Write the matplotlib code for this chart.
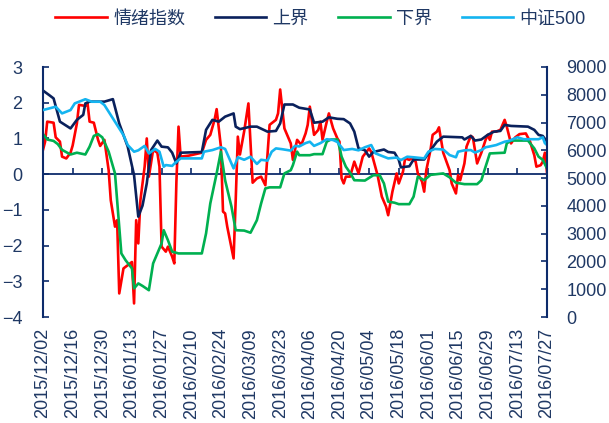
import pandas as pd
import matplotlib.pyplot as plt
import matplotlib.dates as mdates
import matplotlib.ticker as mticker

plt.rcParams['font.family'] = ['Liberation Sans', 'Noto Sans CJK SC']

# 情绪指数 (left axis)
mood_dates = [
    '2015-12-02', '2015-12-03', '2015-12-04', '2015-12-07', '2015-12-08', '2015-12-10',
    '2015-12-11', '2015-12-13', '2015-12-15', '2015-12-16', '2015-12-18', '2015-12-19',
    '2015-12-22', '2015-12-23', '2015-12-24', '2015-12-26', '2015-12-28', '2015-12-29',
    '2015-12-31', '2016-01-02', '2016-01-03', '2016-01-05', '2016-01-06', '2016-01-07',
    '2016-01-09', '2016-01-11', '2016-01-13', '2016-01-14', '2016-01-15', '2016-01-16',
    '2016-01-17', '2016-01-19', '2016-01-20', '2016-01-21', '2016-01-23', '2016-01-25',
    '2016-01-26', '2016-01-27', '2016-01-29', '2016-01-30', '2016-02-01', '2016-02-02',
    '2016-02-03', '2016-02-04', '2016-02-05', '2016-02-09', '2016-02-15', '2016-02-17',
    '2016-02-19', '2016-02-21', '2016-02-22', '2016-02-24', '2016-02-25', '2016-02-26',
    '2016-02-27', '2016-03-01', '2016-03-02', '2016-03-03', '2016-03-04', '2016-03-06',
    '2016-03-08', '2016-03-10', '2016-03-12', '2016-03-14', '2016-03-16', '2016-03-18',
    '2016-03-21', '2016-03-22', '2016-03-23', '2016-03-25', '2016-03-28', '2016-03-29',
    '2016-03-31', '2016-04-02', '2016-04-04', '2016-04-05', '2016-04-06', '2016-04-08',
    '2016-04-10', '2016-04-11', '2016-04-12', '2016-04-14', '2016-04-15', '2016-04-17',
    '2016-04-19', '2016-04-20', '2016-04-21', '2016-04-22', '2016-04-23', '2016-04-25',
    '2016-04-27', '2016-04-29', '2016-05-01', '2016-05-04', '2016-05-05', '2016-05-06',
    '2016-05-08', '2016-05-10', '2016-05-12', '2016-05-13', '2016-05-15', '2016-05-17',
    '2016-05-18', '2016-05-20', '2016-05-21', '2016-05-23', '2016-05-24', '2016-05-26',
    '2016-05-27', '2016-05-29', '2016-05-30', '2016-05-31', '2016-06-02', '2016-06-03',
    '2016-06-05', '2016-06-06', '2016-06-07', '2016-06-08', '2016-06-11', '2016-06-12',
    '2016-06-14', '2016-06-15', '2016-06-16', '2016-06-18', '2016-06-19', '2016-06-21',
    '2016-06-22', '2016-06-24', '2016-06-26', '2016-06-28', '2016-06-29', '2016-06-30',
    '2016-07-01', '2016-07-03', '2016-07-05', '2016-07-07', '2016-07-08', '2016-07-10',
    '2016-07-12', '2016-07-14', '2016-07-17', '2016-07-19', '2016-07-21', '2016-07-22',
    '2016-07-24', '2016-07-25', '2016-07-26', '2016-07-27',
]
mood = [
    0.68, 0.91, 1.47, 1.44, 1.03, 0.91,
    0.49, 0.44, 0.60, 0.80, 1.42, 1.94,
    1.91, 2.00, 1.47, 1.44, 0.96, 0.79,
    0.96, 0.11, -0.73, -1.47, -1.29, -3.34,
    -2.64, -2.55, -2.46, -3.62, -1.29, -1.94,
    -0.73, 0.21, 1.00, -0.07, 0.68, 0.60,
    0.21, -2.03, -2.17, -2.03, -2.31, -2.50,
    -0.20, 1.33, 0.49, 0.52, 0.60, 0.96,
    1.10, 1.52, 1.82, 0.77, -1.05, -1.10,
    -1.47, -2.36, -0.73, 1.05, 0.55, 1.20,
    1.98, -0.24, -0.12, -0.07, -0.31, 1.38,
    1.52, 1.70, 2.37, 1.28, 0.86, 0.40,
    0.96, 0.82, 1.14, 1.38, 1.89, 1.10,
    1.24, 1.47, 0.96, 1.47, 1.70, 1.28,
    1.00, 0.91, -0.12, -0.26, -0.07, -0.07,
    0.35, 0.02, 0.49, 0.72, 0.62, 0.40,
    -0.03, -0.63, -0.91, -1.15, -0.49, 0.02,
    -0.26, 0.07, 0.44, 0.40, 0.44, 0.35,
    0.02, -0.21, -0.49, 0.11, 0.68, 1.10,
    1.19, 1.31, 0.96, 0.60, 0.11, -0.26,
    -0.54, -0.03, -0.17, 0.30, 0.77, 1.07,
    1.03, 0.30, 0.60, 0.96, 1.10, 0.96,
    1.19, 1.19, 1.24, 1.52, 1.33, 0.86,
    1.03, 1.12, 1.14, 0.91, 0.53, 0.21,
    0.25, 0.35, 0.60, 0.05,
]

# 上界 (left axis)
upper_dates = [
    '2015-12-02', '2015-12-05', '2015-12-07', '2015-12-10', '2015-12-15', '2015-12-18',
    '2015-12-21', '2015-12-22', '2015-12-24', '2015-12-31', '2016-01-04', '2016-01-07',
    '2016-01-11', '2016-01-14', '2016-01-16', '2016-01-18', '2016-01-20', '2016-01-22',
    '2016-01-25', '2016-01-27', '2016-01-30', '2016-02-01', '2016-02-03', '2016-02-05',
    '2016-02-15', '2016-02-17', '2016-02-20', '2016-02-23', '2016-02-26', '2016-03-01',
    '2016-03-02', '2016-03-04', '2016-03-09', '2016-03-12', '2016-03-17', '2016-03-21',
    '2016-03-23', '2016-03-25', '2016-03-29', '2016-04-01', '2016-04-06', '2016-04-08',
    '2016-04-12', '2016-04-15', '2016-04-19', '2016-04-22', '2016-04-25', '2016-04-27',
    '2016-04-29', '2016-05-02', '2016-05-04', '2016-05-06', '2016-05-11', '2016-05-13',
    '2016-05-16', '2016-05-18', '2016-05-19', '2016-05-23', '2016-05-25', '2016-05-30',
    '2016-06-02', '2016-06-05', '2016-06-08', '2016-06-17', '2016-06-18', '2016-06-21',
    '2016-06-23', '2016-06-26', '2016-06-29', '2016-07-02', '2016-07-05', '2016-07-07',
    '2016-07-10', '2016-07-18', '2016-07-21', '2016-07-23', '2016-07-25', '2016-07-27',
]
upper = [
    2.34, 2.21, 2.12, 1.47, 1.28, 1.52,
    1.66, 1.98, 2.03, 2.03, 2.10, 1.42,
    0.77, -0.03, -1.19, -0.88, -0.26, 0.67,
    0.94, 0.77, 0.75, 0.60, 0.30, 0.60,
    0.62, 1.24, 1.52, 1.47, 1.61, 1.70,
    1.33, 1.26, 1.33, 1.33, 1.19, 1.21,
    1.42, 1.95, 1.95, 1.86, 1.81, 1.44,
    1.47, 1.59, 1.55, 1.54, 1.42, 1.19,
    0.72, 0.67, 0.49, 0.62, 0.69, 0.62,
    0.60, 0.40, 0.19, 0.22, 0.41, 0.41,
    0.67, 0.91, 1.05, 1.03, 0.97, 1.07,
    0.94, 0.97, 1.10, 1.19, 1.21, 1.38,
    1.35, 1.33, 1.24, 1.10, 1.07, 0.91,
]

# 下界 (left axis)
lower_dates = [
    '2015-12-02', '2015-12-04', '2015-12-07', '2015-12-09', '2015-12-11', '2015-12-15',
    '2015-12-18', '2015-12-22', '2015-12-24', '2015-12-26', '2015-12-28', '2015-12-30',
    '2016-01-02', '2016-01-05', '2016-01-06', '2016-01-08', '2016-01-10', '2016-01-13',
    '2016-01-14', '2016-01-16', '2016-01-18', '2016-01-21', '2016-01-23', '2016-01-25',
    '2016-01-27', '2016-01-28', '2016-01-30', '2016-02-01', '2016-02-04', '2016-02-15',
    '2016-02-17', '2016-02-19', '2016-02-22', '2016-02-24', '2016-02-26', '2016-02-29',
    '2016-03-02', '2016-03-06', '2016-03-09', '2016-03-12', '2016-03-14', '2016-03-16',
    '2016-03-18', '2016-03-23', '2016-03-25', '2016-03-28', '2016-03-29', '2016-03-31',
    '2016-04-01', '2016-04-06', '2016-04-08', '2016-04-12', '2016-04-14', '2016-04-16',
    '2016-04-19', '2016-04-20', '2016-04-21', '2016-04-23', '2016-04-25', '2016-04-27',
    '2016-05-02', '2016-05-06', '2016-05-09', '2016-05-11', '2016-05-13', '2016-05-16',
    '2016-05-18', '2016-05-23', '2016-05-25', '2016-05-27', '2016-05-30', '2016-06-02',
    '2016-06-08', '2016-06-11', '2016-06-14', '2016-06-18', '2016-06-24', '2016-06-26',
    '2016-06-28', '2016-06-30', '2016-07-07', '2016-07-08', '2016-07-10', '2016-07-18',
    '2016-07-21', '2016-07-23', '2016-07-25', '2016-07-27',
]
lower = [
    1.12, 0.97, 0.93, 0.84, 0.68, 0.55,
    0.60, 0.55, 0.77, 1.07, 1.12, 1.03,
    0.63, 0.02, -0.73, -2.22, -2.41, -2.64,
    -3.20, -3.06, -3.13, -3.25, -2.50, -2.22,
    -1.94, -1.57, -1.85, -2.17, -2.22, -2.22,
    -1.66, -0.82, 0.02, 0.63, -0.17, -0.91,
    -1.57, -1.58, -1.64, -1.29, -0.82, -0.40,
    -0.37, -0.37, 0.02, 0.11, 0.25, 0.63,
    0.53, 0.53, 0.56, 0.56, 0.91, 0.97,
    0.97, 0.75, 0.49, 0.21, 0.04, -0.17,
    -0.18, -0.03, -0.03, -0.26, -0.77, -0.80,
    -0.84, -0.84, -0.63, -0.07, -0.17, -0.02,
    0.02, -0.09, -0.24, -0.28, -0.28, -0.17,
    0.21, 0.58, 0.60, 0.86, 0.94, 0.94,
    0.72, 0.49, 0.40, 0.16,
]

# 中证500 (right axis)
csi_dates = [
    '2015-12-02', '2015-12-05', '2015-12-08', '2015-12-11', '2015-12-15', '2015-12-17',
    '2015-12-19', '2015-12-22', '2015-12-25', '2015-12-29', '2015-12-31', '2016-01-02',
    '2016-01-05', '2016-01-06', '2016-01-09', '2016-01-11', '2016-01-14', '2016-01-16',
    '2016-01-19', '2016-01-21', '2016-01-24', '2016-01-26', '2016-01-28', '2016-01-29',
    '2016-02-01', '2016-02-02', '2016-02-05', '2016-02-15', '2016-02-16', '2016-02-20',
    '2016-02-24', '2016-02-26', '2016-03-01', '2016-03-03', '2016-03-06', '2016-03-09',
    '2016-03-12', '2016-03-14', '2016-03-17', '2016-03-19', '2016-03-21', '2016-03-24',
    '2016-03-28', '2016-03-30', '2016-04-01', '2016-04-04', '2016-04-06', '2016-04-08',
    '2016-04-11', '2016-04-14', '2016-04-17', '2016-04-19', '2016-04-22', '2016-04-26',
    '2016-04-29', '2016-05-02', '2016-05-05', '2016-05-07', '2016-05-09', '2016-05-13',
    '2016-05-17', '2016-05-19', '2016-05-22', '2016-05-25', '2016-05-30', '2016-06-01',
    '2016-06-04', '2016-06-08', '2016-06-11', '2016-06-14', '2016-06-15', '2016-06-18',
    '2016-06-21', '2016-06-23', '2016-06-26', '2016-06-28', '2016-06-30', '2016-07-03',
    '2016-07-07', '2016-07-09', '2016-07-13', '2016-07-16', '2016-07-23', '2016-07-25',
    '2016-07-26', '2016-07-27',
]
csi500 = [
    7450, 7510, 7570, 7330, 7450, 7690,
    7750, 7840, 7750, 7750, 7630, 7390,
    7030, 6910, 6550, 6190, 5950, 6000,
    6160, 5890, 6050, 5950, 5410, 5470,
    5440, 5520, 5710, 5710, 5950, 6010,
    6110, 6050, 5350, 5750, 5660, 5770,
    5510, 5660, 5630, 5950, 6070, 6040,
    5990, 6160, 6140, 6260, 6310, 6160,
    6260, 6400, 6370, 6300, 6010, 6050,
    6000, 6110, 6190, 5890, 5830, 5710,
    5740, 5650, 5770, 5750, 5710, 5950,
    6050, 6030, 5830, 5750, 5950, 6000,
    6010, 5920, 6010, 6110, 6140, 6190,
    6310, 6340, 6470, 6400, 6400, 6470,
    6260, 6190,
]

navy = '#0D2B6B'
text_col = '#1F3864'

fig = plt.figure(figsize=(6.09, 4.23), dpi=100)
ax = fig.add_axes([43 / 609, 1 - 317 / 423, 504 / 609, 250 / 423])
ax2 = ax.twinx()

lw = 1.9
l1, = ax.plot(pd.to_datetime(mood_dates), mood, color='#FF0000', lw=lw, label='情绪指数')
l2, = ax.plot(pd.to_datetime(upper_dates), upper, color='#0A215C', lw=lw, label='上界')
l3, = ax.plot(pd.to_datetime(lower_dates), lower, color='#00B050', lw=lw, label='下界')
l4, = ax2.plot(pd.to_datetime(csi_dates), csi500, color='#14B4F0', lw=lw, label='中证500')

start, end = pd.Timestamp('2015-12-02'), pd.Timestamp('2016-07-27')
ticks = pd.date_range(start, end, freq='14D')
ax.set_xlim(start, end)
ax.set_xticks(ticks)
ax.xaxis.set_major_formatter(mdates.DateFormatter('%Y/%m/%d'))
ax.tick_params(axis='x', length=0, pad=8, labelrotation=90, labelsize=13, labelcolor=text_col)

ax.set_ylim(-4, 3)
ax.set_yticks(range(-4, 4))
ax.tick_params(axis='y', direction='in', length=4, width=1.2, color=navy, pad=15,
               labelsize=13, labelcolor=text_col)
ax2.set_ylim(0, 9000)
ax2.set_yticks(range(0, 9001, 1000))
ax2.tick_params(axis='y', direction='in', length=4, width=1.2, color=navy, pad=14,
                labelsize=13, labelcolor=text_col)

for a in (ax, ax2):
    for s in ('top', 'bottom'):
        a.spines[s].set_visible(False)
ax.spines['right'].set_visible(False)
ax2.spines['left'].set_visible(False)
ax.spines['left'].set_color(navy)
ax.spines['left'].set_linewidth(1.5)
ax2.spines['right'].set_color(navy)
ax2.spines['right'].set_linewidth(1.5)

# zero line with its own tick marks
zero = ax.secondary_xaxis(4 / 7)
zero.set_xticks(mdates.date2num(ticks))
zero.xaxis.set_major_formatter(mticker.NullFormatter())
zero.tick_params(direction='out', length=4, width=1.2, color=navy)
for s in ('top', 'bottom'):
    zero.spines[s].set_color(navy)
    zero.spines[s].set_linewidth(1.3)

fig.legend(handles=[l1, l2, l3, l4], loc='center left', bbox_to_anchor=(39 / 609, 1 - 19 / 423),
           ncol=4, frameon=False, fontsize=13, handlelength=2.85, handletextpad=0.35,
           columnspacing=1.65, labelcolor=text_col)

fig.savefig('out.png', dpi=100)
